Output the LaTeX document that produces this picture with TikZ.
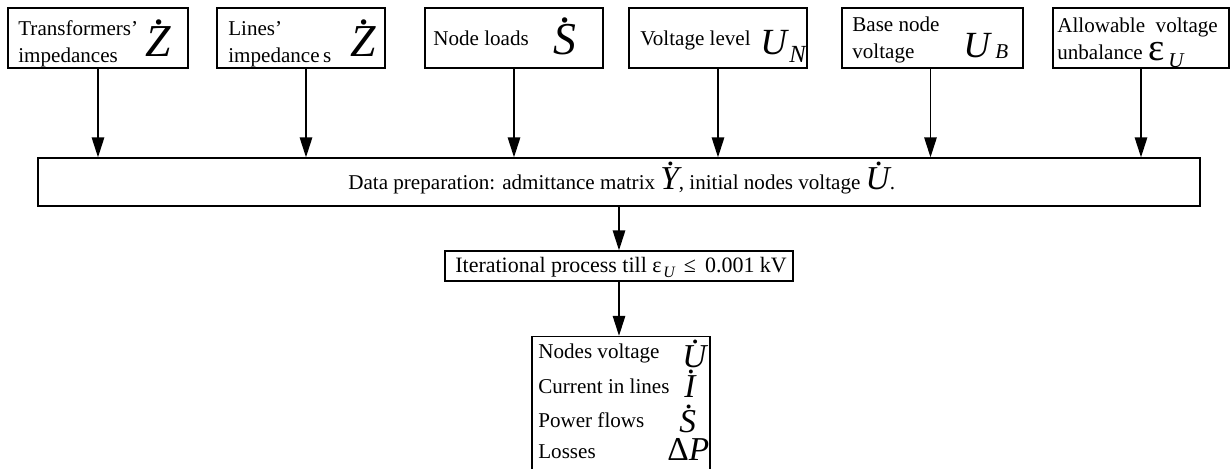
\documentclass[tikz,border=0pt]{standalone}
\usepackage{fontspec}
\setmainfont{Liberation Serif}
\usetikzlibrary{arrows.meta}

\newcommand\dotabove[2][0pt]{\ooalign{#2\cr\hidewidth\kern#1\raisebox{.7em}[0pt][0pt]{.}\hidewidth\cr}}

\tikzset{
  inbox/.style={rectangle,draw,line width=0.8pt,minimum height=1.2cm,inner sep=0pt},
  txt/.style={anchor=base west,inner sep=0pt,font=\fontsize{12}{15.5}\selectfont},
  sym/.style={anchor=base west,inner sep=0pt,font=\fontsize{26}{26}\selectfont\itshape},
  arr/.style={line width=0.8pt,-{Triangle[length=0.4cm,width=0.25cm]}}
}

\begin{document}
\begin{tikzpicture}[x=0.02cm,y=-0.02cm]
\useasboundingbox (0,0) rectangle (1231,468);

% input data
\node[inbox,minimum width=3.6cm] (b1) at (98,38) {};
\node[txt] (t1) at (18,35) {\begin{tabular}[t]{@{}l@{}}Transformers'\\impedances\end{tabular}};
\node[sym] (z1) at (145,56) {\dotabove[3pt]{Z}};

\node[inbox,minimum width=3.36cm] (b2) at (301,38) {};
\node[txt] (t2) at (228,35) {\begin{tabular}[t]{@{}l@{}}Lines'\\impedance\kern2pt s\end{tabular}};
\node[sym] (z2) at (350,56) {\dotabove[3pt]{Z}};

\node[inbox,minimum width=3.56cm] (b3) at (514,38) {};
\node[txt] (t3) at (433,45) {Node loads};
\node[sym] (s3) at (553,54) {\dotabove[2pt]{S}};

\node[inbox,minimum width=3.56cm] (b4) at (718,38) {};
\node[txt] (t4) at (640,45) {Voltage level};
\node[sym,font=\fontsize{21}{21}\selectfont\itshape] (u4) at (760,54) {U};
\node[sym,font=\fontsize{14}{14}\selectfont\itshape] (n4) at (789,62) {N};

\node[inbox,minimum width=3.62cm] (b5) at (932.5,38) {};
\node[txt] (t5) at (852,31) {\begin{tabular}[t]{@{}l@{}}Base node\\voltage\end{tabular}};
\node[sym,font=\fontsize{21}{21}\selectfont\itshape] (u5) at (963,57) {U};
\node[sym,font=\fontsize{12}{12}\selectfont\itshape] (n5) at (995,58) {B};

\node[inbox,minimum width=3.52cm] (b6) at (1141,38) {};
\node[txt] (t6) at (1057,32) {\begin{tabular}[t]{@{}l@{}}Allowable\ \ voltage\\unbalance\end{tabular}};
\node[sym,font=\fontsize{22}{22}\selectfont] (e6) at (1148,60) {ε};
\node[sym,font=\fontsize{12}{12}\selectfont\itshape] (n6) at (1168,67) {U};

% data preparation
\node[rectangle,draw,line width=0.8pt,minimum width=23.24cm,minimum height=0.96cm] (data) at (619,182) {};
\node[txt] (td) at (348,189) {Data preparation: admittance matrix {\fontsize{19}{19}\selectfont\itshape\dotabove[2pt]{Y}}, initial nodes voltage {\fontsize{19}{19}\selectfont\itshape\dotabove[2pt]{U}}.};

% iterations
\node[rectangle,draw,line width=0.8pt,minimum width=6.96cm,minimum height=0.6cm] (iter) at (619,266) {};
\node[txt,font=\fontsize{12.5}{15}\selectfont] (ti) at (455,272) {Iterational process till ε\kern1pt\raisebox{-3pt}{\fontsize{9}{9}\selectfont\itshape U} \,≤\, 0.001 kV};

% results
\node[rectangle,draw,line width=0.8pt,minimum width=3.56cm,minimum height=2.7cm] (out) at (621,404) {};
\node[txt] (r1) at (538,358) {Nodes voltage};
\node[txt] (r2) at (538,393) {Current in lines};
\node[txt] (r3) at (538,427) {Power flows};
\node[txt] (r4) at (538,458) {Losses};
\node[sym,font=\fontsize{19}{19}\selectfont\itshape] (q1) at (682,367) {\dotabove[2pt]{U}};
\node[sym,font=\fontsize{19}{19}\selectfont\itshape] (q2) at (684,397) {\dotabove[2pt]{I}};
\node[sym,font=\fontsize{19}{19}\selectfont\itshape] (q3) at (679,432) {\dotabove[2pt]{S}};
\node[sym,font=\fontsize{19}{19}\selectfont] (q4) at (667,460) {Δ\textit{P}};

\foreach \b/\s in {b1/0,b2/5,b3/0,b4/0,b5/-2,b6/0}
  \draw[arr] ([xshift=\s*0.02cm]\b.south) -- ([xshift=\s*0.02cm]\b.south |- data.north);
\draw[arr] (iter.north |- data.south) -- (iter.north);
\draw[arr] (iter.south) -- (iter.south |- out.north);

\end{tikzpicture}
\end{document}
